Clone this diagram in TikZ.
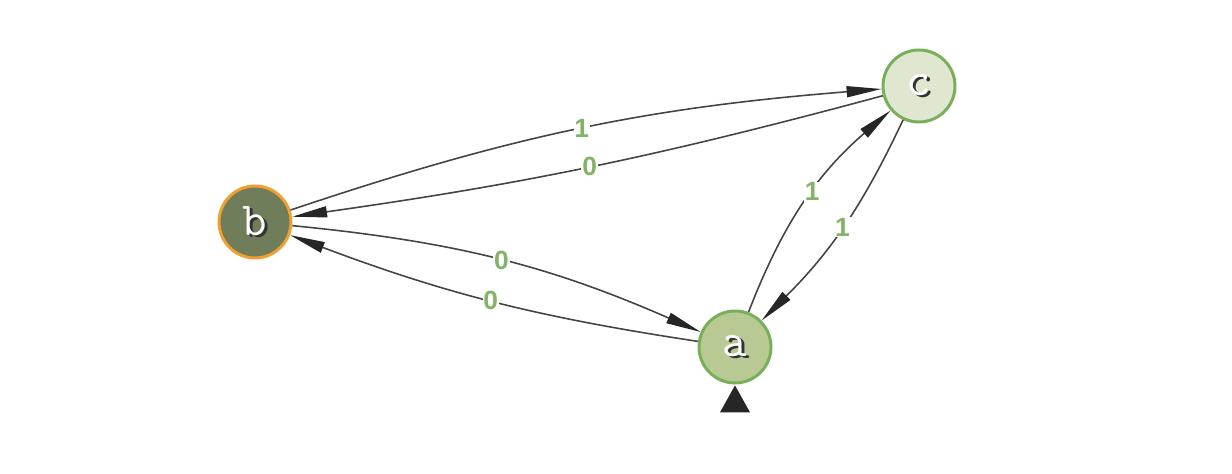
\documentclass[tikz,border=0pt]{standalone}
\usepackage{xcolor}
\usepackage{fontspec}
\usepackage{tikz}
\usetikzlibrary{arrows.meta}

\newfontfamily\lblfont{Liberation Sans}

\definecolor{edgegray}{HTML}{444444}
\definecolor{lblgreen}{HTML}{82B366}
\definecolor{ringgreen}{HTML}{7AAF5A}
\definecolor{ringorange}{HTML}{F0A030}
\definecolor{fillb}{HTML}{6F7D5A}
\definecolor{filla}{HTML}{B8C994}
\definecolor{fillc}{HTML}{DFE7D0}

% state name in white with a dark shadow
\newcommand{\stname}[1]{\rlap{\raisebox{-1.4pt}{\hspace{1.4pt}\textcolor{black!80}{#1}}}\textcolor{white}{#1}}

\tikzset{
  state/.style={circle, line width=1.7pt, draw=ringgreen, minimum size=1.44cm,
    inner sep=0pt, font=\ttfamily\fontsize{27}{27}\selectfont},
  trans/.style={draw=edgegray, line width=0.9pt,
    -{Triangle[length=7mm,width=2.2mm,color=black!85]}},
  lbl/.style={font=\lblfont\bfseries\fontsize{15}{15}\selectfont, text=lblgreen,
    fill=white, inner sep=0.5pt}
}

\begin{document}
\begin{tikzpicture}[>=Latex]
  \useasboundingbox (0,0) rectangle (24.64,9.48);

  \node[state, fill=fillb, draw=ringorange] (b) at (5.10,5.04) {\stname{b}};
  \node[state, fill=filla] (a) at (14.70,2.54) {\stname{a}};
  \node[state, fill=fillc] (c) at (18.38,7.76) {\stname{c}};

  \draw[trans] (b) to[bend left=7] node[lbl] {1} (c);
  \draw[trans] (c) to[bend left=3.5] node[lbl] {0} (b);
  \draw[trans] (b) to[bend left=9] node[lbl] {0} (a);
  \draw[trans] (a) to[bend left=6] node[lbl] {0} (b);
  \draw[trans] (a) to[bend left=14] node[lbl, pos=0.55] {1} (c);
  \draw[trans] (c) to[bend left=10] node[lbl] {1} (a);

  % start marker
  \fill[black!85] ([yshift=-0.5pt]a.south) -- ++(0.3,-0.54) -- ++(-0.6,0) -- cycle;
\end{tikzpicture}
\end{document}
